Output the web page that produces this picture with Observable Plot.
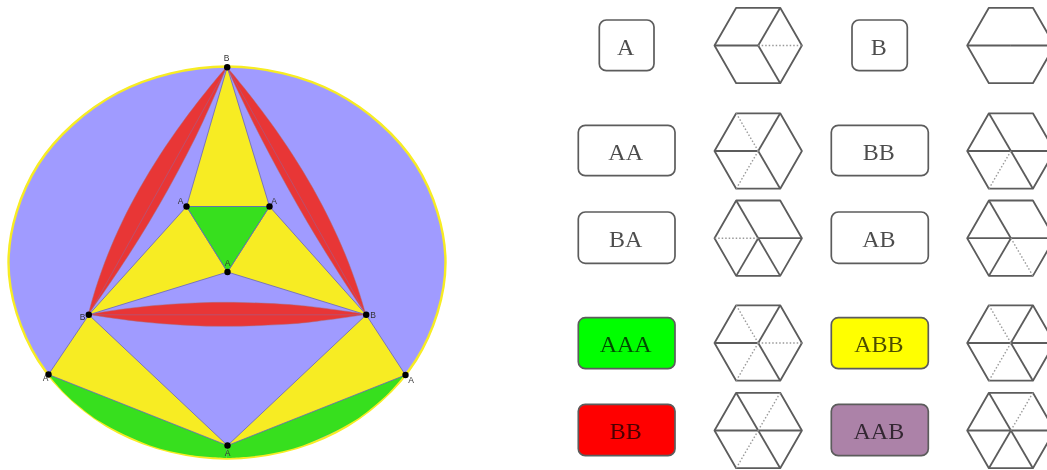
<!DOCTYPE html>
<html>
<head>
<meta charset="utf-8">
<style>html,body{margin:0;padding:0;background:#fff;overflow:hidden}svg{display:block}</style>
<script src="https://cdn.jsdelivr.net/npm/d3@7"></script>
<script src="https://cdn.jsdelivr.net/npm/@observablehq/plot@0.6"></script>
</head>
<body>
<div id="chart"></div>
<script>
// Vertices of the tiling diagram
const vertexIds = ["top","innerL","innerR","center","midL","midR","lowL","lowR","bottom"];
const vertexX = [226.7,186,269,227,88.3,365.7,48,405,227];
const vertexY = [66.7,206,206,271.5,314.3,314.3,374,374.5,445];
const vertexText = ["B","A","A","A","B","B","A","A","A"];
const labelX = [226,180,273.5,227,82,372.5,45,410.5,227];
const labelY = [58,201,201,263,317,314.5,378,379.5,453];

const yellowTriangles = [["top","innerL","innerR"],["innerL","midL","center"],["innerR","midR","center"],["lowL","midL","bottom"],["lowR","midR","bottom"]];
const greenTriangles = [["innerL","innerR","center"]];
const chords = [["top","midL"],["top","midR"],["midL","midR"]];

// Outer oval, read around its outline
const ovalX = [445,415.3,335.5,226.5,117.5,37.7,8,37.7,117.5,226.5,335.5,415.3];
const ovalY = [262,164,92.3,66,92.3,164,262,360,431.7,458,431.7,360];

// Green segments below the lower chords
const segLX = [48,64,80,100,150,190,226.5];
const segLTop = [374,380.3,386.7,394.6,414.4,430.3,445];
const segLBot = [374,392.7,407,421.6,445.5,455,458];
const segRX = [226.5,263,303,353,373,389,405];
const segRTop = [445,430.7,414.9,395.2,387.3,381,374.5];
const segRBot = [458,455,445.5,421.6,407,392.7,374.5];

// Red lenses
const lensLY = [66.7,88.3,121.7,155,188.3,221.7,255,288.3,314.3];
const lensLA = [226.7,208.6,182.9,159.9,139.7,122.2,107.6,95.7,88.3];
const lensLB = [226.7,217.8,202.9,186.5,168.7,149.4,128.7,106.5,88.3];
const lensRY = [66.7,88.3,121.7,155,188.3,221.7,255,288.3,314.3];
const lensRA = [226.7,236.6,252.8,269.9,288,307.1,327.3,348.5,365.7];
const lensRB = [226.7,244.5,270,292.8,313,330.5,345.5,357.8,365.7];
const lensBX = [88.3,113.3,146.7,180,226.7,280,313.3,346.7,365.7];
const lensBA = [314.3,310.4,306.3,303.7,302.3,304,306.9,311.3,314.3];
const lensBB = [314.3,318.2,322.3,324.9,326.3,324.6,321.7,317.3,314.3];

// Right-hand key: boxes and hexagons
const boxText = ["A","B","AA","BB","BA","AB","AAA","ABB","BB","AAB"];
const boxX1 = [599.3,852,578.3,831.3,578.3,831.3,578.3,831.3,578.3,831.3];
const boxX2 = [654,907.3,675,928.3,675,928.3,675,928.3,675,928.3];
const boxY1 = [20,20,125.3,125.3,212,212,317.7,317.7,404.3,404.3];
const boxY2 = [70.7,70.7,175.7,175.7,263.3,263.3,368.7,368.7,455.7,455.7];
const boxFill = ["#fff","#fff","#fff","#fff","#fff","#fff","#00ff00","#ffff00","#ff0000","#ac82a8"];
const hexX = [757.7,1010.4,757.7,1010.4,757.7,1010.4,757.7,1010.4,757.7,1010.4];
const hexY = [45,45,150.5,150.5,237.7,237.7,342.5,342.5,430,430];
// Six spokes per hexagon: E, NE, NW, W, SW, SE  (s solid, d dotted, - none)
const hexSpokes = ["ds-s-s","s--s--","-sdsds","s-ssds","s-sdss","s-sssd","dsdsds","ssdsds","sdssds","sdssss"];
const hexRX = 43.7, hexRXs = 22, hexRY = 37.7;
const dirX = [hexRX,hexRXs,-hexRXs,-hexRX,-hexRXs,hexRXs];
const dirY = [0,-hexRY,-hexRY,0,hexRY,hexRY];

// Build tables
const vertex = Object.fromEntries(vertexIds.map((id,i)=>[id,{x:vertexX[i],y:vertexY[i]}]));
const poly = list => list.flatMap((t,k)=>[...t,t[0]].map(id=>({k,...vertex[id]})));
const oval = ovalX.map((x,i)=>({x,y:ovalY[i]}));
const segL = segLX.map((x,i)=>({x,y1:segLTop[i],y2:segLBot[i]}));
const segR = segRX.map((x,i)=>({x,y1:segRTop[i],y2:segRBot[i]}));
const lensL = lensLY.map((y,i)=>({y,x1:lensLA[i],x2:lensLB[i]}));
const lensR = lensRY.map((y,i)=>({y,x1:lensRA[i],x2:lensRB[i]}));
const lensB = lensBX.map((x,i)=>({x,y1:lensBA[i],y2:lensBB[i]}));
const chordRows = chords.map(([a,b])=>({x1:vertex[a].x,y1:vertex[a].y,x2:vertex[b].x,y2:vertex[b].y}));
const boxes = boxText.map((t,i)=>({t,x1:boxX1[i],x2:boxX2[i],y1:boxY1[i],y2:boxY2[i],fill:boxFill[i]}));
const outline = hexX.flatMap((cx,k)=>[0,1,2,3,4,5,0].map(d=>({k,x:cx+dirX[d],y:hexY[k]+dirY[d]})));
const spokes = hexX.flatMap((cx,k)=>dirX.map((dx,d)=>({kind:hexSpokes[k][d],x1:cx,y1:hexY[k],x2:cx+dx,y2:hexY[k]+dirY[d]})));
const dots = vertexIds.map((id,i)=>({x:vertexX[i],y:vertexY[i]}));
const labels = vertexText.map((t,i)=>({t,x:labelX[i],y:labelY[i]}));

const YEL="#f7ec23",PUR="#a09bff",RED="#e83636",GRN="#37df1e",EDGE="#6763bd",GREY="#5c5c5c";
const soft="blur(0.65px)";
const lensStyle={fill:RED,stroke:"#a8707c",strokeWidth:0.5,curve:"natural"};

document.getElementById("chart").append(Plot.plot({
  width:1047,height:470,margin:0,
  x:{domain:[0,1047],range:[0,1047],axis:null},
  y:{domain:[0,470],range:[0,470],axis:null},
  marks:[
    Plot.line(oval,{x:"x",y:"y",curve:"catmull-rom-closed",fill:PUR,stroke:YEL,strokeWidth:2.4}),
    Plot.areaY(segL,{x:"x",y1:"y1",y2:"y2",fill:GRN,curve:"catmull-rom"}),
    Plot.areaY(segR,{x:"x",y1:"y1",y2:"y2",fill:GRN,curve:"catmull-rom"}),
    Plot.areaX(lensL,{y:"y",x1:"x1",x2:"x2",...lensStyle}),
    Plot.areaX(lensR,{y:"y",x1:"x1",x2:"x2",...lensStyle}),
    Plot.areaY(lensB,{x:"x",y1:"y1",y2:"y2",...lensStyle}),
    Plot.link(chordRows,{x1:"x1",y1:"y1",x2:"x2",y2:"y2",stroke:"#a0608f",strokeWidth:0.6}),
    Plot.line(poly(yellowTriangles),{x:"x",y:"y",z:"k",fill:YEL,stroke:EDGE,strokeWidth:0.8,strokeLinejoin:"round"}),
    Plot.line(poly(greenTriangles),{x:"x",y:"y",z:"k",fill:GRN,stroke:EDGE,strokeWidth:0.8}),
    Plot.dot(dots,{x:"x",y:"y",r:3.2,fill:"#000",imageFilter:"blur(0.3px)"}),
    Plot.text(labels,{x:"x",y:"y",text:"t",fontSize:8.5,fontFamily:"Liberation Sans",fill:"#333",lineAnchor:"middle",imageFilter:"blur(0.3px)"}),
    Plot.rect(boxes,{x1:"x1",x2:"x2",y1:"y1",y2:"y2",rx:7,fill:d=>d.fill,stroke:GREY,strokeWidth:1.7,imageFilter:soft}),
    Plot.text(boxes,{x:d=>(d.x1+d.x2)/2-1.5,y:d=>(d.y1+d.y2)/2+1,text:"t",fontSize:24,fontFamily:"Liberation Serif",fill:"#000",fillOpacity:0.7,lineAnchor:"middle",imageFilter:"blur(0.55px)"}),
    Plot.line(outline,{x:"x",y:"y",z:"k",stroke:GREY,strokeWidth:1.8,strokeLinejoin:"round",imageFilter:soft}),
    Plot.link(spokes.filter(d=>d.kind==="s"),{x1:"x1",y1:"y1",x2:"x2",y2:"y2",stroke:GREY,strokeWidth:1.8,imageFilter:soft}),
    Plot.link(spokes.filter(d=>d.kind==="d"),{x1:"x1",y1:"y1",x2:"x2",y2:"y2",stroke:"#999",strokeWidth:1.4,strokeDasharray:"1.5 2",imageFilter:soft})
  ]
}));
</script>
</body>
</html>
